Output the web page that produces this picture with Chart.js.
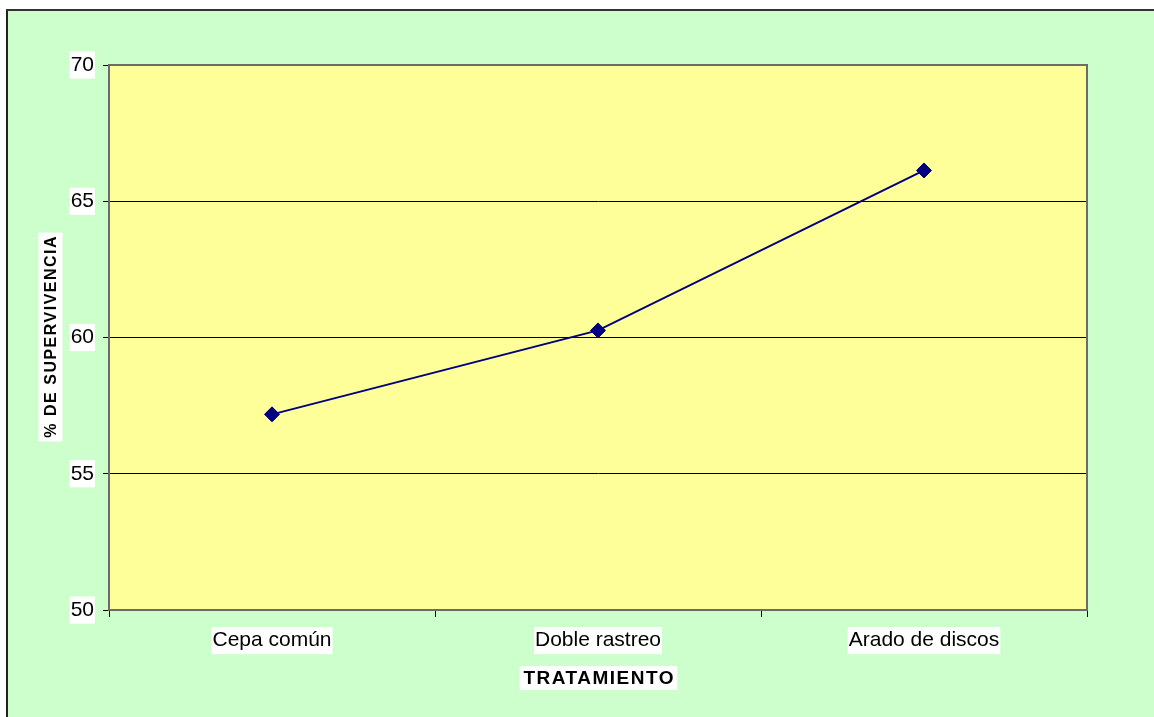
<!DOCTYPE html>
<html>
<head>
<meta charset="utf-8">
<script src="https://cdn.jsdelivr.net/npm/chart.js@4.4.1/dist/chart.umd.min.js"></script>
<style>
  html, body { margin: 0; padding: 0; background: #ffffff; overflow: hidden; width: 1154px; height: 717px; }
  #wrap { position: absolute; left: 0; top: 0; width: 1154px; height: 717px; }
</style>
</head>
<body>
<div id="wrap"><canvas id="c" width="1154" height="717"></canvas></div>
<script>
const categories = ["Cepa común", "Doble rastreo", "Arado de discos"];
const survival = [57.18, 60.26, 66.13];
const yTicks = [50, 55, 60, 65, 70];
const xTitle = "TRATAMIENTO";
const yTitle = "% DE SUPERVIVENCIA";

const plotArea = {
  id: 'plotArea',
  beforeDraw(chart) {
    const a = chart.chartArea, ctx = chart.ctx;
    const W = chart.width, H = chart.height;
    ctx.save();
    ctx.fillStyle = '#ffffff';
    ctx.fillRect(0, 0, W, H);
    ctx.fillStyle = '#CCFFCC';
    ctx.fillRect(6, 9, W - 6, H - 9);
    ctx.fillStyle = '#222222';
    ctx.fillRect(6, 9, 2, H - 9);
    ctx.fillStyle = '#333333';
    ctx.fillRect(6, 9, W - 6, 2);
    ctx.fillStyle = '#FFFF99';
    ctx.fillRect(a.left, a.top, a.right - a.left, a.bottom - a.top);
    ctx.restore();
  },
  beforeDatasetsDraw(chart) {
    const a = chart.chartArea, ctx = chart.ctx;
    ctx.save();
    ctx.strokeStyle = '#6b6b6b';
    ctx.lineWidth = 2;
    ctx.strokeRect(a.left, a.top, a.right - a.left, a.bottom - a.top);
    ctx.restore();
  },
  afterDraw(chart) {
    const ctx = chart.ctx;
    function label(text, x, y, rot, font, spacing) {
      ctx.save();
      ctx.translate(x, y);
      ctx.rotate(rot);
      ctx.font = font;
      try { ctx.letterSpacing = spacing + 'px'; } catch (e) {}
      const w = ctx.measureText(text).width;
      ctx.fillStyle = '#ffffff';
      ctx.fillRect(-w / 2 - 3, -12, w + 6, 24);
      ctx.fillStyle = '#000000';
      ctx.textAlign = 'left';
      ctx.textBaseline = 'middle';
      ctx.fillText(text, -w / 2 + spacing / 2, 1);
      ctx.restore();
    }
    label(xTitle, 598.5, 678, 0, 'bold 19px "Liberation Sans", Arial, sans-serif', 1.5);
    label(yTitle, 50.5, 337, -Math.PI / 2, 'bold 16px "Liberation Sans", Arial, sans-serif', 1.5);
  }
};

new Chart(document.getElementById('c'), {
  type: 'line',
  data: {
    labels: categories,
    datasets: [{
      data: survival,
      borderColor: '#000080',
      backgroundColor: '#000080',
      borderWidth: 2,
      pointStyle: 'rectRot',
      pointRadius: 7.5,
      pointBorderWidth: 1,
      pointBackgroundColor: '#000080',
      pointBorderColor: '#000080',
      tension: 0,
      fill: false
    }]
  },
  options: {
    responsive: false,
    animation: false,
    events: [],
    layout: { padding: { left: 0, top: 65, right: 67, bottom: 0 } },
    plugins: { legend: { display: false }, tooltip: { enabled: false }, title: { display: false } },
    scales: {
      x: {
        type: 'category',
        offset: true,
        afterFit(s) { s.height = 107; },
        grid: { offset: true, drawOnChartArea: false, drawTicks: true, tickLength: 7, color: '#000000', lineWidth: 1 },
        border: { display: true, color: '#555555', width: 2 },
        ticks: {
          color: '#000000',
          font: { family: '"Liberation Sans", Arial, sans-serif', size: 21 },
          padding: 11,
          maxRotation: 0,
          showLabelBackdrop: true,
          backdropColor: '#ffffff',
          backdropPadding: { left: 1, right: 1, top: 1, bottom: 1 }
        }
      },
      y: {
        min: 50,
        max: 70,
        afterFit(s) { s.width = 109; },
        afterBuildTicks(s) { s.ticks = yTicks.map(v => ({ value: v })); },
        grid: { drawOnChartArea: true, drawTicks: true, tickLength: 6, color: '#000000', lineWidth: 1 },
        border: { display: true, color: '#666666', width: 2 },
        ticks: {
          color: '#000000',
          font: { family: '"Liberation Sans", Arial, sans-serif', size: 21 },
          padding: 9,
          showLabelBackdrop: true,
          backdropColor: '#ffffff',
          backdropPadding: { left: 1, right: 1, top: 1, bottom: 1 }
        }
      }
    }
  },
  plugins: [plotArea]
});
</script>
</body>
</html>
